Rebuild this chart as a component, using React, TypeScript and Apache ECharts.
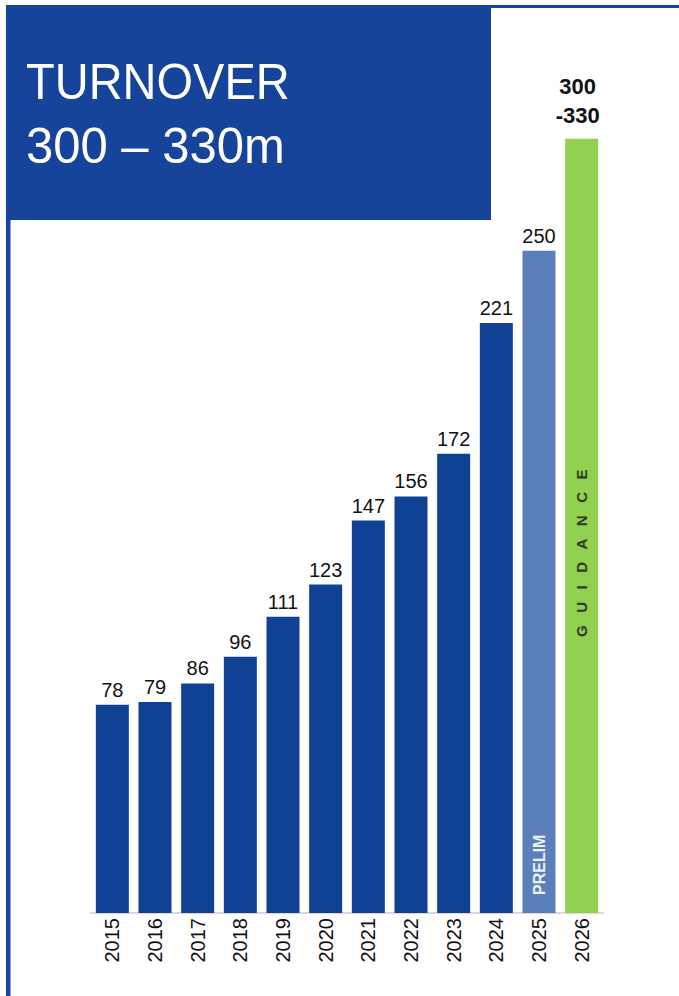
import React, { useEffect, useRef } from "react";
import * as echarts from "echarts";

const years = ["2015", "2016", "2017", "2018", "2019", "2020", "2021", "2022", "2023", "2024", "2025", "2026"];
const turnover = [78, 79, 86, 96, 111, 123, 147, 156, 172, 221, 248, 290];
const valueLabels = ["78", "79", "86", "96", "111", "123", "147", "156", "172", "221", "250", "300\n-330"];
const insideLabels = ["", "", "", "", "", "", "", "", "", "", "PRELIM", "G\u00A0\u00A0\u00A0U\u00A0\u00A0\u00A0I\u00A0\u00A0\u00A0D\u00A0\u00A0\u00A0A\u00A0\u00A0\u00A0N\u00A0\u00A0\u00A0C\u00A0\u00A0\u00A0E"];
const titleLines = ["TURNOVER", "300 \u2013 330m"];

const DARK = "#0F4195";
const PRELIM = "#5B7FBA";
const GREEN = "#92D050";
const BOX = "#15449A";

export default function App() {
  const ref = useRef<HTMLDivElement>(null);
  useEffect(() => {
    if (!ref.current) return;
    const chart = echarts.init(ref.current, undefined, { renderer: "svg" });
    const n = years.length;
    const colorFor = (i: number) => (i === n - 1 ? GREEN : i === n - 2 ? PRELIM : DARK);
    chart.setOption({
      animation: false,
      backgroundColor: "#ffffff",
      grid: { left: 91, right: 76, top: 112, bottom: 83 },
      xAxis: {
        type: "category",
        data: years,
        axisLine: { show: true, lineStyle: { color: "#D9D9D9", width: 2 } },
        axisTick: { show: false },
        axisLabel: {
          rotate: 90,
          margin: 5,
          fontSize: 20,
          color: "#111111",
          fontFamily: "Liberation Sans",
          interval: 0,
        },
      },
      yAxis: { type: "value", min: 0, max: 300, show: false, splitLine: { show: false } },
      series: [
        {
          type: "bar",
          barWidth: 33,
          data: turnover.map((v, i) => ({
            value: v,
            itemStyle: { color: colorFor(i) },
            label:
              i === n - 1
                ? { fontWeight: "bold", fontSize: 22, lineHeight: 29, distance: 9, offset: [-4, 0] }
                : undefined,
          })),
          label: {
            show: true,
            position: "top",
            distance: 5,
            fontSize: 20,
            color: "#111111",
            fontFamily: "Liberation Sans",
            formatter: (p: any) => valueLabels[p.dataIndex],
          },
        },
        {
          type: "bar",
          barWidth: 33,
          barGap: "-100%",
          silent: true,
          z: 3,
          data: turnover.map((v, i) => ({
            value: insideLabels[i] ? v : null,
            itemStyle: { color: "rgba(0,0,0,0)" },
            label:
              i === n - 1
                ? { color: "#2E3A22", fontSize: 15, fontWeight: "bold", distance: 276 }
                : { color: "#EEF2F8", fontSize: 16, fontWeight: "bold", distance: 18 },
          })),
          label: {
            show: true,
            position: "insideBottom",
            rotate: 90,
            align: "left",
            verticalAlign: "middle",
            fontWeight: "bold",
            fontFamily: "Liberation Sans",
            formatter: (p: any) => insideLabels[p.dataIndex],
          },
        },
      ],
      graphic: [
        { type: "rect", shape: { x: 6, y: 5, width: 485, height: 215 }, style: { fill: BOX } },
        { type: "rect", shape: { x: 491, y: 5, width: 188, height: 3 }, style: { fill: BOX } },
        { type: "rect", shape: { x: 6, y: 220, width: 4.5, height: 776 }, style: { fill: BOX } },
        {
          type: "text",
          x: 26,
          y: 81,
          scaleX: 0.94,
          style: {
            text: titleLines[0],
            fill: "#ffffff",
            font: "400 50px 'Liberation Sans'",
            verticalAlign: "middle",
            align: "left",
          },
        },
        {
          type: "text",
          x: 26,
          y: 145,
          scaleX: 0.98,
          style: {
            text: titleLines[1],
            fill: "#ffffff",
            font: "400 50px 'Liberation Sans'",
            verticalAlign: "middle",
            align: "left",
          },
        },
      ],
    });
    return () => chart.dispose();
  }, []);
  return (
    <div
      ref={ref}
      style={{ position: "fixed", left: 0, top: 0, width: 679, height: 996, background: "#fff" }}
    />
  );
}
